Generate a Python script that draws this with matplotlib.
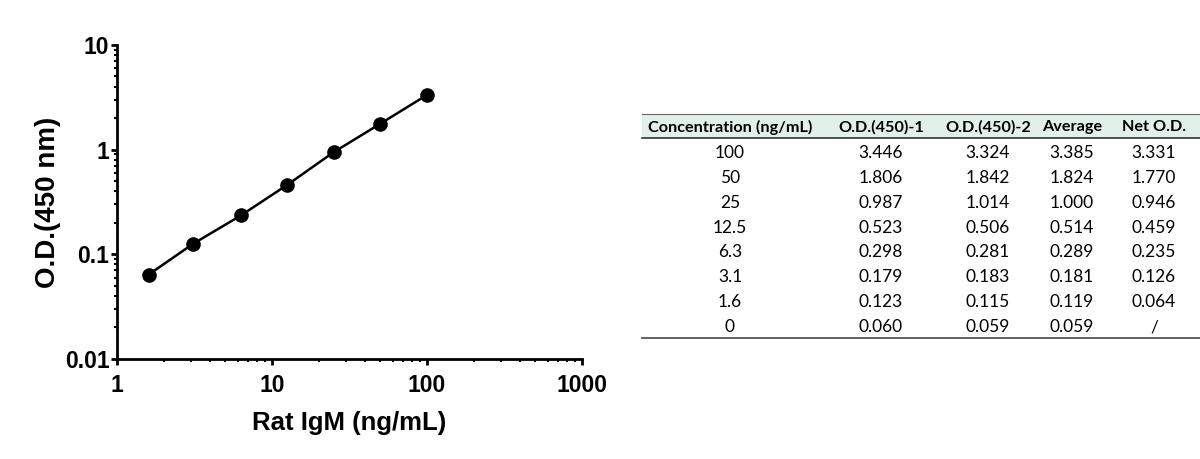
import numpy as np
import matplotlib
matplotlib.use("Agg")
import matplotlib.pyplot as plt
from matplotlib.ticker import LogLocator, FixedLocator, NullFormatter
from matplotlib.patches import Rectangle

# standard curve data (Net O.D.)
conc = [1.6, 3.1, 6.3, 12.5, 25, 50, 100]
net_od = [0.064, 0.126, 0.235, 0.459, 0.946, 1.770, 3.331]

# table data
col_labels = ["Concentration (ng/mL)", "O.D.(450)-1", "O.D.(450)-2", "Average", "Net O.D."]
tbl_conc = ["100", "50", "25", "12.5", "6.3", "3.1", "1.6", "0"]
od1 = ["3.446", "1.806", "0.987", "0.523", "0.298", "0.179", "0.123", "0.060"]
od2 = ["3.324", "1.842", "1.014", "0.506", "0.281", "0.183", "0.115", "0.059"]
avg = ["3.385", "1.824", "1.000", "0.514", "0.289", "0.181", "0.119", "0.059"]
net = ["3.331", "1.770", "0.946", "0.459", "0.235", "0.126", "0.064", "/"]

plt.rcParams['font.family'] = ['Liberation Sans', 'DejaVu Sans']

fig = plt.figure(figsize=(12, 4.59), dpi=100)
ax = fig.add_axes([0.0975, 0.218, 0.3875, 0.684])

ax.plot(conc, net_od, color='black', lw=1.8, marker='o', ms=9.5, zorder=3)
ax.set_xscale('log')
ax.set_yscale('log')
ax.set_xlim(1, 1000)
ax.set_ylim(0.01, 10)

ax.xaxis.set_major_locator(FixedLocator([1, 10, 100, 1000]))
ax.yaxis.set_major_locator(FixedLocator([0.01, 0.1, 1, 10]))
ax.set_xticklabels(['1', '10', '100', '1000'])
ax.set_yticklabels(['0.01', '0.1', '1', '10'])
ax.xaxis.set_minor_locator(LogLocator(base=10, subs=np.arange(2, 10)))
ax.yaxis.set_minor_locator(LogLocator(base=10, subs=np.arange(2, 10)))
ax.xaxis.set_minor_formatter(NullFormatter())
ax.yaxis.set_minor_formatter(NullFormatter())

for s in ['top', 'right']:
    ax.spines[s].set_visible(False)
for s in ['left', 'bottom']:
    ax.spines[s].set_linewidth(2)

ax.tick_params(which='major', length=4, width=2, labelsize=16.5)
ax.tick_params(which='minor', length=2.5, width=1.5)
ax.tick_params(axis='x', which='major', pad=7)
ax.tick_params(axis='y', which='major', pad=1.5)
for lab in ax.get_xticklabels() + ax.get_yticklabels():
    lab.set_fontweight('bold')

ax.set_xlabel('Rat IgM (ng/mL)', fontsize=18.5, fontweight='bold', labelpad=10)
ax.set_ylabel('O.D.(450 nm)', fontsize=20, fontweight='bold', labelpad=3)

# table drawn in figure coordinates
W, H = 1200.0, 459.0
tfont = ['Lato', 'DejaVu Sans']
x0, x1 = 642, 1200
top, hdr_bot, bot = 114, 138, 338
col_x = [730, 881, 988, 1072, 1154]

def fy(y):
    return 1 - y / H

fig.patches.append(Rectangle((x0 / W, fy(hdr_bot)), (x1 - x0) / W, (hdr_bot - top) / H,
                             transform=fig.transFigure, facecolor='#e2f0ea', edgecolor='none'))
fig.add_artist(plt.Line2D([x0 / W, x1 / W], [fy(top), fy(top)], color='#666666', lw=0.8))
fig.add_artist(plt.Line2D([x0 / W, x1 / W], [fy(hdr_bot), fy(hdr_bot)], color='#333333', lw=1.2))
fig.add_artist(plt.Line2D([x0 / W, x1 / W], [fy(bot), fy(bot)], color='#555555', lw=1.3))

for cx, lab in zip(col_x, col_labels):
    fig.text(cx / W, fy(127), lab, ha='center', va='center', fontsize=11.7,
             fontweight='bold', family=tfont)

rows = list(zip(tbl_conc, od1, od2, avg, net))
for i, row in enumerate(rows):
    y = 153 + i * 24.86
    for cx, val in zip(col_x, row):
        fig.text(cx / W, fy(y), val, ha='center', va='center', fontsize=12.5, family=tfont)

fig.savefig('out.png', dpi=100)
